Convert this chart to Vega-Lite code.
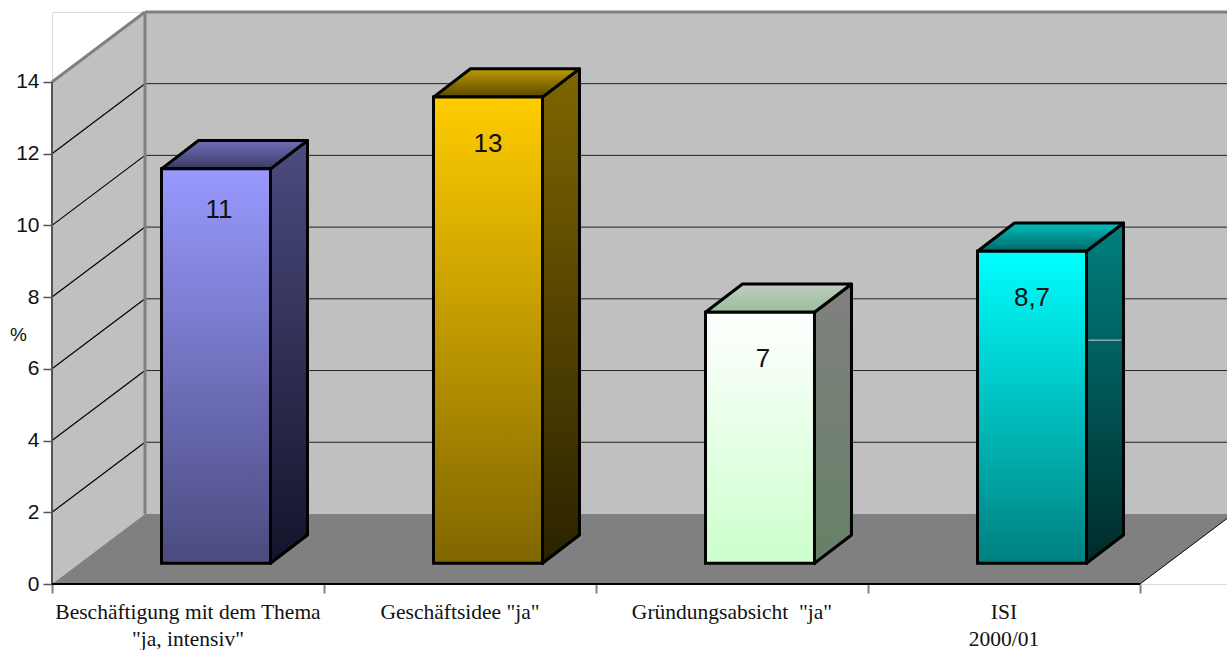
{
  "$schema": "https://vega.github.io/schema/vega-lite/v6.json",
  "autosize": "none",
  "width": 1175,
  "height": 572,
  "padding": {"left": 52, "top": 12, "right": 0, "bottom": 66},
  "background": "white",
  "datasets": {
    "bars": [
      {"name": "Beschäftigung mit dem Thema\n\"ja, intensiv\"", "value": 11, "label": "11", "slot": 0},
      {"name": "Geschäftsidee \"ja\"", "value": 13, "label": "13", "slot": 1},
      {"name": "Gründungsabsicht \u00a0\"ja\"", "value": 7, "label": "7", "slot": 2},
      {"name": "ISI\n2000/01", "value": 8.7, "label": "8,7", "slot": 3}
    ],
    "ticks": [{"v": 0}, {"v": 2}, {"v": 4}, {"v": 6}, {"v": 8}, {"v": 10}, {"v": 12}],
    "ends": [{"t": 0}, {"t": 1}],
    "one": [{"k": 1}]
  },
  "encoding": {
    "x": {"field": "x", "type": "quantitative",
      "scale": {"domain": [0, 4.3199], "nice": false, "zero": false},
      "axis": {"values": [0, 1, 2, 3, 4], "labels": false, "domain": false, "grid": false, "tickSize": 9, "tickColor": "#808080", "tickWidth": 2, "title": null}},
    "y": {"field": "y", "type": "quantitative",
      "scale": {"domain": [0, 15.95], "nice": false, "zero": false},
      "axis": {"values": [0, 2, 4, 6, 8, 10, 12, 14], "domain": false, "grid": false, "tickSize": 9, "tickColor": "#555555", "tickWidth": 1.5,
        "labelFont": "Liberation Sans", "labelFontSize": 21, "labelColor": "#111111", "labelPadding": 4, "format": "d",
        "title": "%", "titleAngle": 0, "titleX": -34, "titleY": 322, "titleFont": "Liberation Sans", "titleFontSize": 19, "titleFontWeight": "normal", "titleColor": "#111111", "titleBaseline": "middle", "titleAlign": "center"}}
  },
  "layer": [
    {"data": {"name": "ends"},
      "transform": [{"calculate": "datum.t*0.3419", "as": "x"}, {"calculate": "datum.t*1.952", "as": "y"}, {"calculate": "14+datum.t*1.95", "as": "y2"}],
      "mark": {"type": "area", "fill": "#c0c0c0", "orient": "vertical"},
      "encoding": {"y2": {"field": "y2"}}},
    {"data": {"name": "one"},
      "transform": [{"calculate": "0.3419", "as": "x"}, {"calculate": "4.3199", "as": "x2"}, {"calculate": "1.952", "as": "y"}, {"calculate": "15.95", "as": "y2"}],
      "mark": {"type": "rect", "fill": "#c0c0c0"},
      "encoding": {"x2": {"field": "x2"}, "y2": {"field": "y2"}}},
    {"data": {"name": "ends"},
      "transform": [{"calculate": "datum.t*0.3419", "as": "x"}, {"calculate": "4+datum.t*0.3419", "as": "x2"}, {"calculate": "datum.t*1.952", "as": "y"}],
      "mark": {"type": "area", "fill": "#808080", "orient": "horizontal", "clip": true},
      "encoding": {"x2": {"field": "x2"}}},
    {"data": {"name": "ticks"},
      "transform": [{"filter": "datum.v>0"}, {"calculate": "0.3419", "as": "x"}, {"calculate": "4.3199", "as": "x2"}, {"calculate": "datum.v+1.952", "as": "y"}],
      "mark": {"type": "rule", "stroke": "#222222", "strokeWidth": 1},
      "encoding": {"x2": {"field": "x2"}}},
    {"data": {"name": "ticks"},
      "transform": [{"filter": "datum.v>0"}, {"calculate": "0", "as": "x"}, {"calculate": "0.3419", "as": "x2"}, {"calculate": "datum.v", "as": "y"}, {"calculate": "datum.v+1.952", "as": "y2"}],
      "mark": {"type": "rule", "stroke": "#000000", "strokeWidth": 1.2},
      "encoding": {"x2": {"field": "x2"}, "y2": {"field": "y2"}}},
    {"data": {"name": "one"},
      "transform": [{"calculate": "0", "as": "x"}, {"calculate": "0.3419", "as": "x2"}, {"calculate": "14", "as": "y"}, {"calculate": "15.95", "as": "y2"}],
      "mark": {"type": "rule", "stroke": "#808080", "strokeWidth": 3},
      "encoding": {"x2": {"field": "x2"}, "y2": {"field": "y2"}}},
    {"data": {"name": "one"},
      "transform": [{"calculate": "0.3419", "as": "x"}, {"calculate": "1.952", "as": "y"}, {"calculate": "15.95", "as": "y2"}],
      "mark": {"type": "rule", "stroke": "#808080", "strokeWidth": 3},
      "encoding": {"y2": {"field": "y2"}}},
    {"data": {"name": "one"},
      "transform": [{"calculate": "0.3419", "as": "x"}, {"calculate": "4.3199", "as": "x2"}, {"calculate": "15.95", "as": "y"}],
      "mark": {"type": "rule", "stroke": "#808080", "strokeWidth": 3},
      "encoding": {"x2": {"field": "x2"}}},
    {"data": {"name": "one"},
      "transform": [{"calculate": "0", "as": "x"}, {"calculate": "0", "as": "y"}, {"calculate": "14", "as": "y2"}],
      "mark": {"type": "rule", "stroke": "#555555", "strokeWidth": 2},
      "encoding": {"y2": {"field": "y2"}}},
    {"data": {"name": "one"},
      "transform": [{"calculate": "0", "as": "x"}, {"calculate": "4", "as": "x2"}, {"calculate": "0", "as": "y"}],
      "mark": {"type": "rule", "stroke": "#000000", "strokeWidth": 2},
      "encoding": {"x2": {"field": "x2"}}},
    {"data": {"name": "one"},
      "transform": [{"calculate": "4", "as": "x"}, {"calculate": "4.3199", "as": "x2"}, {"calculate": "0", "as": "y"}, {"calculate": "1.826", "as": "y2"}],
      "mark": {"type": "rule", "stroke": "#000000", "strokeWidth": 1},
      "encoding": {"x2": {"field": "x2"}, "y2": {"field": "y2"}}},

    {"data": {"name": "bars"},
      "transform": [{"filter": "datum.slot==0"}, {"calculate": "[0,1]", "as": "t"}, {"flatten": ["t"]}, {"calculate": "datum.slot+0.8033+datum.t*0.136", "as": "x"}, {"calculate": "0.577+datum.t*0.789", "as": "y"}, {"calculate": "0.577+datum.value+datum.t*0.789", "as": "y2"}],
      "mark": {"type": "area", "orient": "vertical", "stroke": "#000000", "strokeWidth": 3, "strokeJoin": "round",
        "fill": {"gradient": "linear", "x1": 0, "y1": 0, "x2": 0, "y2": 1, "stops": [{"offset": 0, "color": "#4c4c80"}, {"offset": 1, "color": "#13132a"}]}},
      "encoding": {"y2": {"field": "y2"}}},
    {"data": {"name": "bars"},
      "transform": [{"filter": "datum.slot==0"}, {"calculate": "[0,1]", "as": "t"}, {"flatten": ["t"]}, {"calculate": "datum.slot+0.4026+datum.t*0.136", "as": "x"}, {"calculate": "datum.slot+0.8033+datum.t*0.136", "as": "x2"}, {"calculate": "0.577+datum.value+datum.t*0.789", "as": "y"}],
      "mark": {"type": "area", "orient": "horizontal", "stroke": "#000000", "strokeWidth": 3, "strokeJoin": "round",
        "fill": {"gradient": "linear", "x1": 0, "y1": 0, "x2": 0, "y2": 1, "stops": [{"offset": 0, "color": "#7070b8"}, {"offset": 1, "color": "#3a3a66"}]}},
      "encoding": {"x2": {"field": "x2"}}},
    {"data": {"name": "bars"},
      "transform": [{"filter": "datum.slot==0"}, {"calculate": "datum.slot+0.4026", "as": "x"}, {"calculate": "datum.slot+0.8033", "as": "x2"}, {"calculate": "0.577", "as": "y"}, {"calculate": "0.577+datum.value", "as": "y2"}],
      "mark": {"type": "rect", "stroke": "#000000", "strokeWidth": 3,
        "fill": {"gradient": "linear", "x1": 0, "y1": 0, "x2": 0, "y2": 1, "stops": [{"offset": 0, "color": "#9999ff"}, {"offset": 1, "color": "#4b4b80"}]}},
      "encoding": {"x2": {"field": "x2"}, "y2": {"field": "y2"}}},

    {"data": {"name": "bars"},
      "transform": [{"filter": "datum.slot==1"}, {"calculate": "[0,1]", "as": "t"}, {"flatten": ["t"]}, {"calculate": "datum.slot+0.8033+datum.t*0.136", "as": "x"}, {"calculate": "0.577+datum.t*0.789", "as": "y"}, {"calculate": "0.577+datum.value+datum.t*0.789", "as": "y2"}],
      "mark": {"type": "area", "orient": "vertical", "stroke": "#000000", "strokeWidth": 3, "strokeJoin": "round",
        "fill": {"gradient": "linear", "x1": 0, "y1": 0, "x2": 0, "y2": 1, "stops": [{"offset": 0, "color": "#806600"}, {"offset": 1, "color": "#2a2200"}]}},
      "encoding": {"y2": {"field": "y2"}}},
    {"data": {"name": "bars"},
      "transform": [{"filter": "datum.slot==1"}, {"calculate": "[0,1]", "as": "t"}, {"flatten": ["t"]}, {"calculate": "datum.slot+0.4026+datum.t*0.136", "as": "x"}, {"calculate": "datum.slot+0.8033+datum.t*0.136", "as": "x2"}, {"calculate": "0.577+datum.value+datum.t*0.789", "as": "y"}],
      "mark": {"type": "area", "orient": "horizontal", "stroke": "#000000", "strokeWidth": 3, "strokeJoin": "round",
        "fill": {"gradient": "linear", "x1": 0, "y1": 0, "x2": 0, "y2": 1, "stops": [{"offset": 0, "color": "#c09a00"}, {"offset": 1, "color": "#5a4800"}]}},
      "encoding": {"x2": {"field": "x2"}}},
    {"data": {"name": "bars"},
      "transform": [{"filter": "datum.slot==1"}, {"calculate": "datum.slot+0.4026", "as": "x"}, {"calculate": "datum.slot+0.8033", "as": "x2"}, {"calculate": "0.577", "as": "y"}, {"calculate": "0.577+datum.value", "as": "y2"}],
      "mark": {"type": "rect", "stroke": "#000000", "strokeWidth": 3,
        "fill": {"gradient": "linear", "x1": 0, "y1": 0, "x2": 0, "y2": 1, "stops": [{"offset": 0, "color": "#ffcc00"}, {"offset": 1, "color": "#806600"}]}},
      "encoding": {"x2": {"field": "x2"}, "y2": {"field": "y2"}}},

    {"data": {"name": "bars"},
      "transform": [{"filter": "datum.slot==2"}, {"calculate": "[0,1]", "as": "t"}, {"flatten": ["t"]}, {"calculate": "datum.slot+0.8033+datum.t*0.136", "as": "x"}, {"calculate": "0.577+datum.t*0.789", "as": "y"}, {"calculate": "0.577+datum.value+datum.t*0.789", "as": "y2"}],
      "mark": {"type": "area", "orient": "vertical", "stroke": "#000000", "strokeWidth": 3, "strokeJoin": "round",
        "fill": {"gradient": "linear", "x1": 0, "y1": 0, "x2": 0, "y2": 1, "stops": [{"offset": 0, "color": "#808080"}, {"offset": 1, "color": "#668066"}]}},
      "encoding": {"y2": {"field": "y2"}}},
    {"data": {"name": "bars"},
      "transform": [{"filter": "datum.slot==2"}, {"calculate": "[0,1]", "as": "t"}, {"flatten": ["t"]}, {"calculate": "datum.slot+0.4026+datum.t*0.136", "as": "x"}, {"calculate": "datum.slot+0.8033+datum.t*0.136", "as": "x2"}, {"calculate": "0.577+datum.value+datum.t*0.789", "as": "y"}],
      "mark": {"type": "area", "orient": "horizontal", "stroke": "#000000", "strokeWidth": 3, "strokeJoin": "round",
        "fill": {"gradient": "linear", "x1": 0, "y1": 0, "x2": 0, "y2": 1, "stops": [{"offset": 0, "color": "#c0ccc0"}, {"offset": 1, "color": "#99c099"}]}},
      "encoding": {"x2": {"field": "x2"}}},
    {"data": {"name": "bars"},
      "transform": [{"filter": "datum.slot==2"}, {"calculate": "datum.slot+0.4026", "as": "x"}, {"calculate": "datum.slot+0.8033", "as": "x2"}, {"calculate": "0.577", "as": "y"}, {"calculate": "0.577+datum.value", "as": "y2"}],
      "mark": {"type": "rect", "stroke": "#000000", "strokeWidth": 3,
        "fill": {"gradient": "linear", "x1": 0, "y1": 0, "x2": 0, "y2": 1, "stops": [{"offset": 0, "color": "#ffffff"}, {"offset": 1, "color": "#ccffcc"}]}},
      "encoding": {"x2": {"field": "x2"}, "y2": {"field": "y2"}}},

    {"data": {"name": "bars"},
      "transform": [{"filter": "datum.slot==3"}, {"calculate": "[0,1]", "as": "t"}, {"flatten": ["t"]}, {"calculate": "datum.slot+0.8033+datum.t*0.136", "as": "x"}, {"calculate": "0.577+datum.t*0.789", "as": "y"}, {"calculate": "0.577+datum.value+datum.t*0.789", "as": "y2"}],
      "mark": {"type": "area", "orient": "vertical", "stroke": "#000000", "strokeWidth": 3, "strokeJoin": "round",
        "fill": {"gradient": "linear", "x1": 0, "y1": 0, "x2": 0, "y2": 1, "stops": [{"offset": 0, "color": "#008080"}, {"offset": 1, "color": "#002a2a"}]}},
      "encoding": {"y2": {"field": "y2"}}},
    {"data": {"name": "bars"},
      "transform": [{"filter": "datum.slot==3"}, {"calculate": "[0,1]", "as": "t"}, {"flatten": ["t"]}, {"calculate": "datum.slot+0.4026+datum.t*0.136", "as": "x"}, {"calculate": "datum.slot+0.8033+datum.t*0.136", "as": "x2"}, {"calculate": "0.577+datum.value+datum.t*0.789", "as": "y"}],
      "mark": {"type": "area", "orient": "horizontal", "stroke": "#000000", "strokeWidth": 3, "strokeJoin": "round",
        "fill": {"gradient": "linear", "x1": 0, "y1": 0, "x2": 0, "y2": 1, "stops": [{"offset": 0, "color": "#00c0c0"}, {"offset": 1, "color": "#006666"}]}},
      "encoding": {"x2": {"field": "x2"}}},
    {"data": {"name": "bars"},
      "transform": [{"filter": "datum.slot==3"}, {"calculate": "datum.slot+0.4026", "as": "x"}, {"calculate": "datum.slot+0.8033", "as": "x2"}, {"calculate": "0.577", "as": "y"}, {"calculate": "0.577+datum.value", "as": "y2"}],
      "mark": {"type": "rect", "stroke": "#000000", "strokeWidth": 3,
        "fill": {"gradient": "linear", "x1": 0, "y1": 0, "x2": 0, "y2": 1, "stops": [{"offset": 0, "color": "#00ffff"}, {"offset": 1, "color": "#008080"}]}},
      "encoding": {"x2": {"field": "x2"}, "y2": {"field": "y2"}}},

    {"data": {"name": "one"},
      "transform": [{"calculate": "3.81", "as": "x"}, {"calculate": "3.9315", "as": "x2"}, {"calculate": "6.8", "as": "y"}],
      "mark": {"type": "rule", "stroke": "#d0d0d0", "strokeWidth": 1},
      "encoding": {"x2": {"field": "x2"}}},

    {"data": {"name": "bars"},
      "transform": [{"filter": "datum.slot==0"}, {"calculate": "datum.slot+0.603", "as": "x"}, {"calculate": "0.577+datum.value", "as": "y"}],
      "mark": {"type": "text", "font": "Liberation Sans", "fontSize": 26, "color": "#111111", "baseline": "middle", "dy": 41, "dx": 3},
      "encoding": {"text": {"field": "label"}}},
    {"data": {"name": "bars"},
      "transform": [{"filter": "datum.slot==1||datum.slot==3"}, {"calculate": "datum.slot+0.603", "as": "x"}, {"calculate": "0.577+datum.value", "as": "y"}],
      "mark": {"type": "text", "font": "Liberation Sans", "fontSize": 26, "color": "#111111", "baseline": "middle", "dy": 47},
      "encoding": {"text": {"field": "label"}}},
    {"data": {"name": "bars"},
      "transform": [{"filter": "datum.slot==2"}, {"calculate": "datum.slot+0.603", "as": "x"}, {"calculate": "0.577+datum.value", "as": "y"}],
      "mark": {"type": "text", "font": "Liberation Sans", "fontSize": 26, "color": "#111111", "baseline": "middle", "dy": 47, "dx": 3},
      "encoding": {"text": {"field": "label"}}},
    {"data": {"name": "bars"},
      "transform": [{"calculate": "datum.slot+0.5", "as": "x"}, {"calculate": "0", "as": "y"}],
      "mark": {"type": "text", "font": "Liberation Serif", "fontSize": 21.5, "color": "#111111", "baseline": "top", "dy": 18, "lineBreak": "\n", "lineHeight": 27},
      "encoding": {"text": {"field": "name"}}}
  ]
}
